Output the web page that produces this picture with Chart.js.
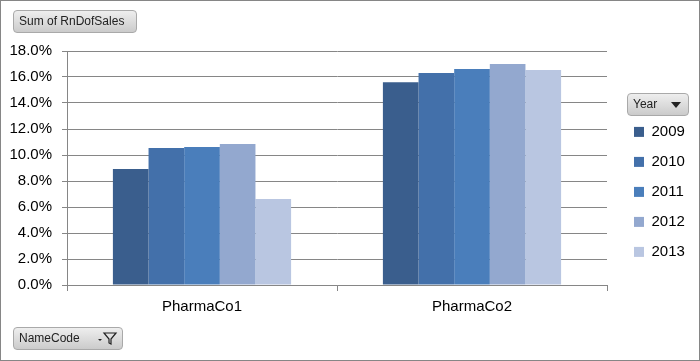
<!DOCTYPE html>
<html>
<head>
<meta charset="utf-8">
<script src="https://cdn.jsdelivr.net/npm/chart.js@4/dist/chart.umd.min.js"></script>
<style>
  body { margin: 0; background: #fff; }
  #wrap { position: relative; width: 700px; height: 361px; font-family: "Liberation Sans", Arial, sans-serif; }
  #myChart { position: absolute; left: 0; top: 0; }
  #frame { position: absolute; left: 0; top: 0; width: 700px; height: 361px; box-sizing: border-box; border: 1px solid #868686; pointer-events: none; }
  .btn { position: absolute; box-sizing: border-box; height: 23px; border: 1px solid #a9a9a9; border-radius: 4px;
         background: linear-gradient(#eeeeee, #cbcbcb); font-size: 12px; color: #222; line-height: 21px; padding-left: 5px; }
</style>
</head>
<body>
<div id="wrap">
  <canvas id="myChart" width="700" height="361"></canvas>
  <div id="frame"></div>
  <div class="btn" style="left:13px;top:10px;width:124px;">Sum of RnDofSales</div>
  <div class="btn" style="left:627px;top:93px;width:62px;">Year
    <svg width="10" height="6" style="position:absolute;right:7px;top:8px"><polygon points="0,0 10,0 5,6" fill="#222"/></svg>
  </div>
  <div class="btn" style="left:13px;top:327px;width:110px;">NameCode
    <svg width="22" height="14" style="position:absolute;right:4px;top:4px">
      <polygon points="2,7 6,7 4,9" fill="#222"/>
      <polygon points="8,1 20,1 15,7 15,12 13,11 13,7" fill="none" stroke="#222" stroke-width="1.2"/>
    </svg>
  </div>
</div>
<script>
'use strict';

let companies = ['PharmaCo1', 'PharmaCo2'];
let years = ['2009', '2010', '2011', '2012', '2013'];
let sales2009 = [0.0892, 0.1560];
let sales2010 = [0.1054, 0.1630];
let sales2011 = [0.1062, 0.1662];
let sales2012 = [0.1085, 0.1700];
let sales2013 = [0.0662, 0.1654];
let yearColors = ['#3a5e8d', '#4370aa', '#4a7ebb', '#93a8cf', '#b9c6e1'];

let allSales = [sales2009, sales2010, sales2011, sales2012, sales2013];
let sets = [];
for (let i = 0; i < years.length; i++) {
  sets.push({
    label: years[i],
    data: allSales[i],
    backgroundColor: yearColors[i],
    borderWidth: 0,
    categoryPercentage: 0.66,
    barPercentage: 1
  });
}

// legend sits a bit away from the plot, like the excel one
let legendSpot = {
  id: 'legendSpot',
  beforeLayout(chart) {
    let lg = chart.legend;
    if (lg && !lg._fixed) {
      let oldFit = lg.fit.bind(lg);
      lg.fit = function () { oldFit(); this.width = 93; };
      lg._fixed = true;
    }
  },
  afterLayout(chart) {
    if (chart.legend) chart.legend.left = 619;
  }
};

Chart.defaults.font.family = '"Liberation Sans", Arial, sans-serif';
Chart.defaults.font.size = 15;
Chart.defaults.color = '#000';

let ctx = document.getElementById('myChart').getContext('2d');
let myChart = new Chart(ctx, {
  type: 'bar',
  data: { labels: companies, datasets: sets },
  options: {
    responsive: false,
    animation: false,
    layout: { padding: { top: 51, left: 0, right: 0, bottom: 0 } },
    plugins: {
      tooltip: { enabled: false },
      legend: {
        position: 'right',
        align: 'start',
        title: { display: true, text: ' ', font: { size: 12 }, padding: { top: 30, bottom: 14 } },
        labels: { boxWidth: 10, boxHeight: 10, padding: 15, font: { size: 15 }, color: '#000' }
      }
    },
    scales: {
      x: {
        grid: { display: true, drawOnChartArea: false, tickLength: 6, color: '#868686' },
        border: { color: '#868686' },
        ticks: { padding: 7 },
        afterFit(scale) { scale.height = 76; }
      },
      y: {
        min: 0,
        max: 0.18,
        ticks: {
          stepSize: 0.02,
          padding: 10,
          callback: v => (v * 100).toFixed(1) + '%'
        },
        grid: { color: '#868686', tickLength: 5 },
        border: { color: '#868686' },
        afterFit(scale) { scale.width = 67; }
      }
    }
  },
  plugins: [legendSpot]
});
</script>
</body>
</html>
